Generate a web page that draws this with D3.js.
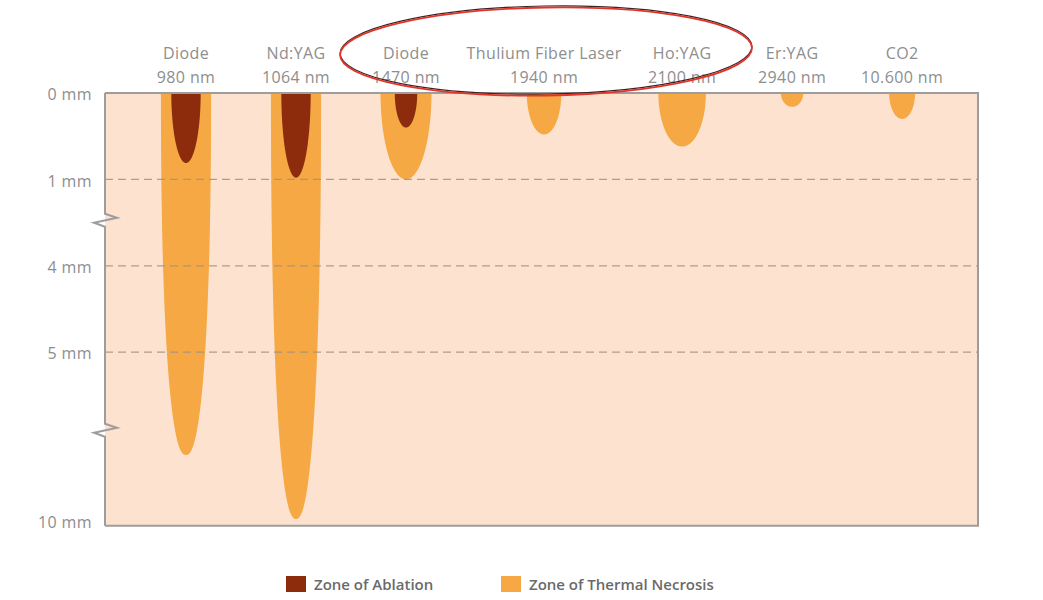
<!DOCTYPE html>
<html>
<head>
<meta charset="utf-8">
<script src="https://cdn.jsdelivr.net/npm/d3@7"></script>
<style>
  html, body { margin: 0; padding: 0; background: #ffffff; }
  svg { display: block; }
</style>
</head>
<body>
<svg id="chart" width="1043" height="600"></svg>
<script>
// ---------------- DATA ----------------
const categories = ["Diode", "Nd:YAG", "Diode", "Thulium Fiber Laser", "Ho:YAG", "Er:YAG", "CO2"];
const wavelengths = ["980 nm", "1064 nm", "1470 nm", "1940 nm", "2100 nm", "2940 nm", "10.600 nm"];
// depth of the zones in mm
const necrosisDepth = [8.05, 9.95, 1.0, 0.48, 0.62, 0.16, 0.30];
const ablationDepth = [0.81, 0.98, 0.40, null, null, null, null];
// width of the zones in mm (drawn at the same mm scale as the 0–1 mm band)
const necrosisWidth = [0.58, 0.58, 0.59, 0.40, 0.55, 0.26, 0.30];
const ablationWidth = [0.34, 0.34, 0.26, null, null, null, null];
const yTicks = [0, 1, 4, 5, 10];
const yTickLabels = ["0 mm", "1 mm", "4 mm", "5 mm", "10 mm"];
const yBreaks = [2.4, 7.3];
const legendLabels = ["Zone of Ablation", "Zone of Thermal Necrosis"];

// ---------------- LAYOUT / STYLE ----------------
const colors = { ablation: "#8c2c0d", necrosis: "#f5a843", bg: "#fde3cf", text: "#8e8e8e", border: "#9d9d9d", grid: "#a39184" };
const plot = { left: 105, right: 978, top: 93, unit: 86.4 };
const fontFamily = "'Open Sans', 'Noto Sans', sans-serif";

const svg = d3.select("#chart");

// piecewise depth scale (broken axis)
const y = d3.scaleLinear()
  .domain(yTicks)
  .range([0, 1, 2, 3, 4.95].map(k => plot.top + k * plot.unit));
const plotBottom = y(10) + 5;
const w = d3.scaleLinear().domain([0, 1]).range([0, plot.unit]);

// ---- header labels, to measure column widths ----
const header = svg.append("g").attr("font-family", fontFamily).attr("font-size", 16)
  .attr("letter-spacing", 0.4).attr("fill", colors.text).attr("text-anchor", "middle");
const lab = header.selectAll("g.lab").data(categories).join("g").attr("class", "lab");
lab.append("text").attr("y", 59).text(d => d);
lab.append("text").attr("y", 83).text((d, i) => wavelengths[i]);

const widths = [];
lab.each(function () { widths.push(this.getBBox().width); });
const colW = widths.map(v => Math.max(110, v + 11));
const centers = [];
let acc = 131;
colW.forEach(cw => { centers.push(acc + cw / 2); acc += cw; });
const x = d3.scaleOrdinal().domain(d3.range(categories.length)).range(centers);
lab.attr("transform", (d, i) => `translate(${x(i)},0)`);

// ---- plot background ----
const plotG = svg.insert("g", ":first-child");
plotG.append("rect").attr("x", plot.left).attr("y", plot.top)
  .attr("width", plot.right - plot.left).attr("height", plotBottom - plot.top)
  .attr("fill", colors.bg);

// ---- zone shapes ----
function zonePath(cx, depth, width) {
  const top = y(0), tip = y(depth), hw = w(width) / 2;
  const P = (tip - top) / (2 * hw) > 3 ? 2.3 : 2.0;
  const pts = d3.range(0, 91).map(k => {
    const th = k / 90 * Math.PI / 2;
    return { yy: top + (tip - top) * Math.pow(Math.sin(th), 2 / P), off: hw * Math.pow(Math.cos(th), 2 / P) };
  });
  return d3.area().y(d => d.yy).x0(d => cx - d.off).x1(d => cx + d.off)(pts);
}
const zones = plotG.append("g");
categories.forEach((c, i) => {
  zones.append("path").attr("d", zonePath(x(i), necrosisDepth[i], necrosisWidth[i])).attr("fill", colors.necrosis);
  if (ablationDepth[i] != null)
    zones.append("path").attr("d", zonePath(x(i), ablationDepth[i], ablationWidth[i])).attr("fill", colors.ablation);
});

// ---- dashed grid lines ----
plotG.append("g").selectAll("line").data(yTicks.filter(t => t > 0 && t < 10)).join("line")
  .attr("x1", plot.left).attr("x2", plot.right)
  .attr("y1", d => y(d)).attr("y2", d => y(d))
  .attr("stroke", colors.grid).attr("stroke-width", 1.3).attr("stroke-dasharray", "8,5").attr("opacity", 0.85);

// ---- borders ----
const bp = d3.path();
bp.moveTo(plot.left, plot.top); bp.lineTo(plot.right, plot.top);
bp.lineTo(plot.right, plotBottom); bp.lineTo(plot.left, plotBottom);
plotG.append("path").attr("d", bp.toString()).attr("fill", "none").attr("stroke", colors.border).attr("stroke-width", 2);

const ap = d3.path();
ap.moveTo(plot.left, plot.top);
yBreaks.forEach(b => {
  const yb = y(b);
  ap.lineTo(plot.left, yb - 6);
  ap.lineTo(plot.left + 12, yb - 2);
  ap.lineTo(plot.left - 11, yb + 3);
  ap.lineTo(plot.left, yb + 7);
});
ap.lineTo(plot.left, plotBottom);
plotG.append("path").attr("d", ap.toString()).attr("fill", "none").attr("stroke", colors.border).attr("stroke-width", 2);

// ---- y tick labels ----
svg.append("g").attr("font-family", fontFamily).attr("font-size", 16).attr("letter-spacing", 0.4)
  .attr("fill", colors.text).attr("text-anchor", "end")
  .selectAll("text").data(yTicks).join("text")
  .attr("x", 92).attr("y", d => y(d) + 1.5).attr("dy", "0.35em")
  .text((d, i) => yTickLabels[i]);

// ---- legend ----
const legend = svg.append("g").attr("font-family", fontFamily).attr("font-size", 15)
  .attr("font-weight", 600).attr("fill", "#6a6a6a");
const legendX = [286, 501];
const legendFill = [colors.ablation, colors.necrosis];
legendLabels.forEach((t, i) => {
  legend.append("rect").attr("x", legendX[i]).attr("y", 576).attr("width", 20).attr("height", 16).attr("fill", legendFill[i]);
  legend.append("text").attr("x", legendX[i] + 28).attr("y", 590).text(t);
});

// ---- red annotation ellipse ----
const ann = svg.append("g").attr("transform", "rotate(-1 546 51)");
ann.append("ellipse").attr("cx", 546).attr("cy", 50).attr("rx", 206).attr("ry", 44)
  .attr("fill", "none").attr("stroke", "#3b2424").attr("stroke-width", 1.2);
ann.append("ellipse").attr("cx", 546).attr("cy", 51.5).attr("rx", 206).attr("ry", 44)
  .attr("fill", "none").attr("stroke", "#e2352a").attr("stroke-width", 1.8);
</script>
</body>
</html>
